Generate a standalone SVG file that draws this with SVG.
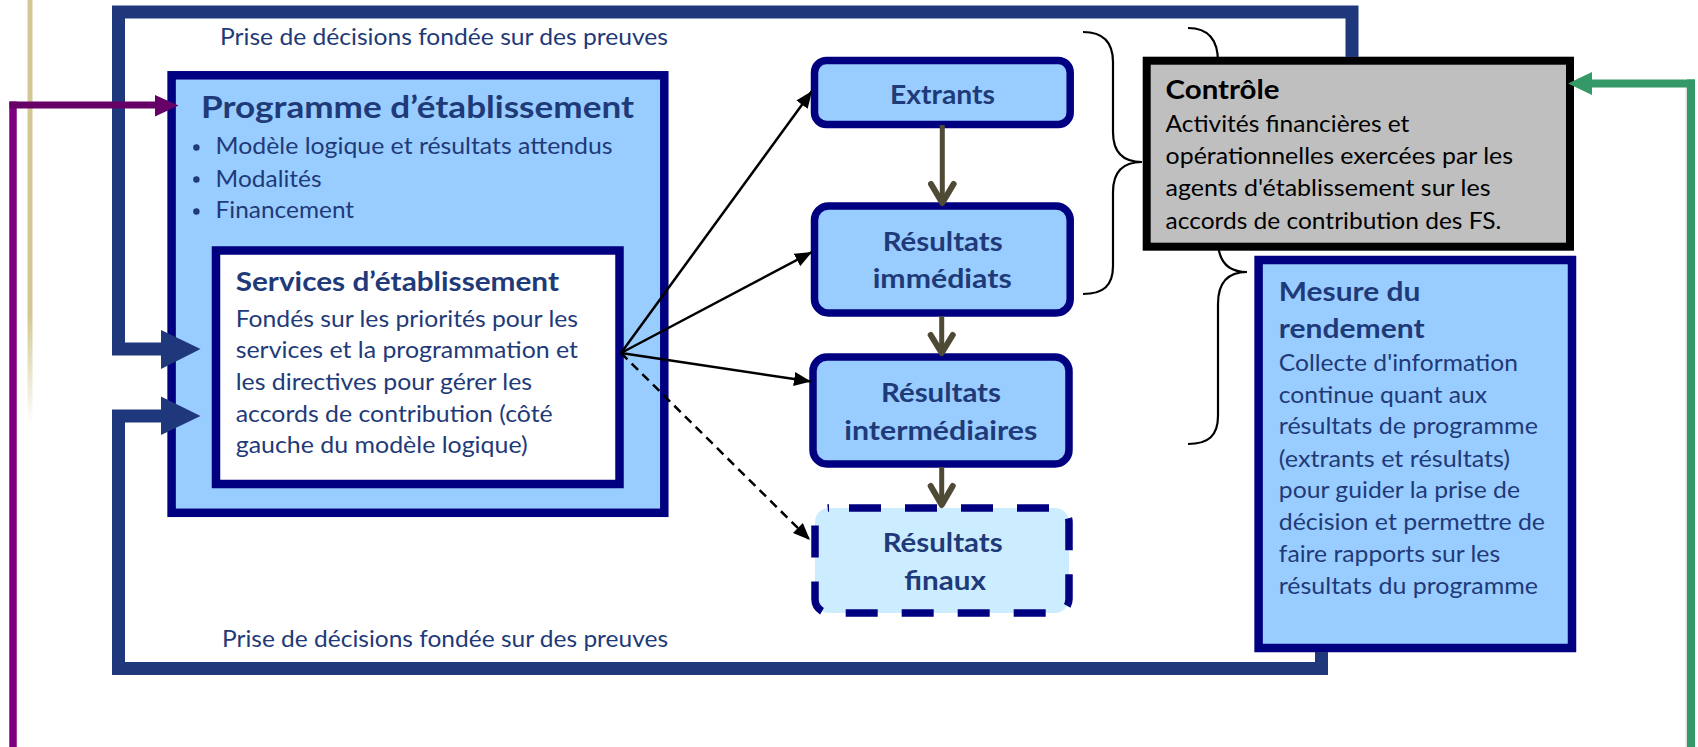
<svg xmlns="http://www.w3.org/2000/svg" width="1698" height="747" viewBox="0 0 1698 747">
<defs>
<linearGradient id="beige" x1="0" y1="0" x2="0" y2="1">
<stop offset="0" stop-color="#D3C893"/>
<stop offset="0.74" stop-color="#D3C893"/>
<stop offset="1" stop-color="#D3C893" stop-opacity="0"/>
</linearGradient>
<marker id="ah" markerUnits="userSpaceOnUse" markerWidth="18" markerHeight="14" refX="17" refY="7" orient="auto">
<path d="M0,0 L17,7 L0,14 Z" fill="#000" stroke="none"/>
</marker>
<style>
.t{font-family:Lato,'Open Sans',sans-serif;fill:#1F3A78;font-size:22.6px}
.tb{font-weight:bold;font-size:27px}
.big{font-size:29.5px}
.k{fill:#000}
.box{fill:#99CCFF;stroke:#000080;stroke-width:8.5}
.rbox{fill:#99CCFF;stroke:#000080;stroke-width:7.5}
.frame{fill:none;stroke:#1F387C;stroke-width:13;stroke-linejoin:miter}
.brace{fill:none;stroke:#000;stroke-width:2.2}
.blk{fill:none;stroke:#000;stroke-width:2.5}
.olive{fill:none;stroke:#4E4A36;stroke-width:5}
.chev{fill:none;stroke:#4E4A36;stroke-width:6;stroke-linecap:round;stroke-linejoin:round}
</style>
</defs>
<rect width="1698" height="747" fill="#fff"/>
<rect x="27.5" y="0" width="5" height="425" fill="url(#beige)"/>

<g id="braces">
<path class="brace" d="M1083 32 C1103 32 1113 42 1113 62 L1113 132 C1113 152 1122 162 1142 162 C1122 162 1113 172 1113 192 L1113 266 C1113 286 1103 294 1083 294"/>
<path class="brace" d="M1188 28 C1208 28 1218 40 1218 62 L1218 240 C1218 262 1228 272 1247 272 C1228 272 1218 282 1218 304 L1218 416 C1218 436 1208 444 1188 444"/>
</g>

<g id="label-top"><text class="t" x="220" y="45" textLength="448" lengthAdjust="spacingAndGlyphs">Prise de décisions fondée sur des preuves</text></g>
<g id="label-bottom"><text class="t" x="222" y="647" textLength="446" lengthAdjust="spacingAndGlyphs">Prise de décisions fondée sur des preuves</text></g>

<g id="programme">
<rect class="box" x="171.6" y="75.3" width="492.7" height="437.5"/>
<text class="t tb big" x="201" y="118" textLength="433" lengthAdjust="spacingAndGlyphs">Programme d’établissement</text>
<circle cx="196.4" cy="147.5" r="3.2" fill="#1F3A78"/>
<circle cx="196.4" cy="179.5" r="3.2" fill="#1F3A78"/>
<circle cx="196.4" cy="211.5" r="3.2" fill="#1F3A78"/>
<text class="t" x="215.6" y="154.3" textLength="397" lengthAdjust="spacingAndGlyphs">Modèle logique et résultats attendus</text>
<text class="t" x="215.6" y="186.5" textLength="106" lengthAdjust="spacingAndGlyphs">Modalités</text>
<text class="t" x="215.6" y="218.3" textLength="138.5" lengthAdjust="spacingAndGlyphs">Financement</text>
</g>

<g id="services">
<rect x="216" y="250.5" width="403.5" height="233.5" fill="#fff" stroke="#000080" stroke-width="8.5"/>
<text class="t tb" x="235.7" y="290.7" textLength="323.3" lengthAdjust="spacingAndGlyphs">Services d’établissement</text>
<text class="t" x="235.7" y="326.7" textLength="342.3" lengthAdjust="spacingAndGlyphs">Fondés sur les priorités pour les</text>
<text class="t" x="235.7" y="358.3" textLength="342.3" lengthAdjust="spacingAndGlyphs">services et la programmation et</text>
<text class="t" x="235.7" y="390" textLength="296.4" lengthAdjust="spacingAndGlyphs">les directives pour gérer les</text>
<text class="t" x="235.7" y="421.7" textLength="317" lengthAdjust="spacingAndGlyphs">accords de contribution (côté</text>
<text class="t" x="235.7" y="453.3" textLength="292" lengthAdjust="spacingAndGlyphs">gauche du modèle logique)</text>
</g>

<g id="extrants">
<rect class="rbox" x="814.5" y="60.5" width="255.7" height="64" rx="12"/>
<text class="t tb" x="890" y="104" textLength="105" lengthAdjust="spacingAndGlyphs">Extrants</text>
</g>

<g id="resultats-immediats">
<rect class="rbox" x="814.5" y="206" width="255.7" height="107" rx="14"/>
<text class="t tb" x="882.7" y="250.7" textLength="120" lengthAdjust="spacingAndGlyphs">Résultats</text>
<text class="t tb" x="872.7" y="288.3" textLength="139" lengthAdjust="spacingAndGlyphs">immédiats</text>
</g>

<g id="resultats-intermediaires">
<rect class="rbox" x="813" y="357" width="256" height="107" rx="14"/>
<text class="t tb" x="881" y="401.7" textLength="120" lengthAdjust="spacingAndGlyphs">Résultats</text>
<text class="t tb" x="844.3" y="440" textLength="193" lengthAdjust="spacingAndGlyphs">intermédiaires</text>
</g>

<g id="resultats-finaux">
<rect x="815" y="508" width="254" height="105" rx="14" fill="#CCECFF" stroke="#000080" stroke-width="7.5" stroke-dasharray="32 24" stroke-dashoffset="-20"/>
<text class="t tb" x="882.7" y="551.7" textLength="120" lengthAdjust="spacingAndGlyphs">Résultats</text>
<text class="t tb" x="904.3" y="590" textLength="81.7" lengthAdjust="spacingAndGlyphs">finaux</text>
</g>

<g id="controle">
<rect x="1146.7" y="60.7" width="423.3" height="186" fill="#BFBFBF" stroke="#000" stroke-width="8"/>
<text class="t tb k" x="1165.6" y="99" textLength="114" lengthAdjust="spacingAndGlyphs">Contrôle</text>
<text class="t k" x="1165.6" y="132.3" textLength="243.8" lengthAdjust="spacingAndGlyphs">Activités financières et</text>
<text class="t k" x="1165.6" y="164.3" textLength="347.4" lengthAdjust="spacingAndGlyphs">opérationnelles exercées par les</text>
<text class="t k" x="1165.6" y="196" textLength="324.9" lengthAdjust="spacingAndGlyphs">agents d'établissement sur les</text>
<text class="t k" x="1165.6" y="229.3" textLength="335.6" lengthAdjust="spacingAndGlyphs">accords de contribution des FS.</text>
</g>

<g id="mesure">
<rect class="box" x="1258.6" y="260" width="313.4" height="388" stroke-width="8"/>
<text class="t tb" x="1278.8" y="300.7" textLength="141.6" lengthAdjust="spacingAndGlyphs">Mesure du</text>
<text class="t tb" x="1278.8" y="338.3" textLength="145.9" lengthAdjust="spacingAndGlyphs">rendement</text>
<text class="t" x="1278.8" y="370.7" textLength="239.1" lengthAdjust="spacingAndGlyphs">Collecte d'information</text>
<text class="t" x="1278.8" y="402.7" textLength="208.2" lengthAdjust="spacingAndGlyphs">continue quant aux</text>
<text class="t" x="1278.8" y="434.3" textLength="259.1" lengthAdjust="spacingAndGlyphs">résultats de programme</text>
<text class="t" x="1278.8" y="466.7" textLength="231.3" lengthAdjust="spacingAndGlyphs">(extrants et résultats)</text>
<text class="t" x="1278.8" y="498.3" textLength="241.2" lengthAdjust="spacingAndGlyphs">pour guider la prise de</text>
<text class="t" x="1278.8" y="530" textLength="266.2" lengthAdjust="spacingAndGlyphs">décision et permettre de</text>
<text class="t" x="1278.8" y="562.3" textLength="221.3" lengthAdjust="spacingAndGlyphs">faire rapports sur les</text>
<text class="t" x="1278.8" y="594" textLength="259.1" lengthAdjust="spacingAndGlyphs">résultats du programme</text>
</g>

<g id="connectors">
<path class="frame" d="M162 349 L118.5 349 L118.5 12 L1352 12 L1352 57"/>
<path class="frame" d="M162 416 L118.5 416 L118.5 668.5 L1321.5 668.5 L1321.5 652"/>
<polygon points="161,330 200.5,349 161,369" fill="#1F387C"/>
<polygon points="161,396.5 200.5,416 161,435" fill="#1F387C"/>

<line x1="13" y1="101.5" x2="13" y2="747" stroke="#800080" stroke-width="7.5"/>
<line x1="9.5" y1="105" x2="157" y2="105" stroke="#660066" stroke-width="7"/>
<polygon points="155,95 178.5,105.5 155,116.5" fill="#660066"/>

<line x1="1687" y1="82" x2="1687" y2="747" stroke="#000" stroke-opacity="0.12" stroke-width="3"/>
<line x1="1691" y1="79.5" x2="1691" y2="747" stroke="#339966" stroke-width="8"/>
<line x1="1695" y1="83.5" x2="1590" y2="83.5" stroke="#339966" stroke-width="8"/>
<polygon points="1592,72 1568,83.5 1592,95" fill="#339966"/>

<line class="blk" x1="621" y1="353" x2="812" y2="91" marker-end="url(#ah)"/>
<line class="blk" x1="621" y1="353" x2="812" y2="252" marker-end="url(#ah)"/>
<line class="blk" x1="621" y1="353" x2="811" y2="381.5" marker-end="url(#ah)"/>
<line class="blk" x1="621" y1="353" x2="810" y2="540" stroke-dasharray="9 6" marker-end="url(#ah)"/>

<line class="olive" x1="942.3" y1="125" x2="942.3" y2="201"/>
<polyline class="chev" points="931,184 942.3,203 953.6,184"/>
<line class="olive" x1="941.7" y1="316" x2="941.7" y2="351"/>
<polyline class="chev" points="930.7,335 941.7,353 952.7,335"/>
<line class="olive" x1="941.7" y1="467" x2="941.7" y2="503"/>
<polyline class="chev" points="930.7,486 941.7,505 952.7,486"/>
</g>
</svg>
